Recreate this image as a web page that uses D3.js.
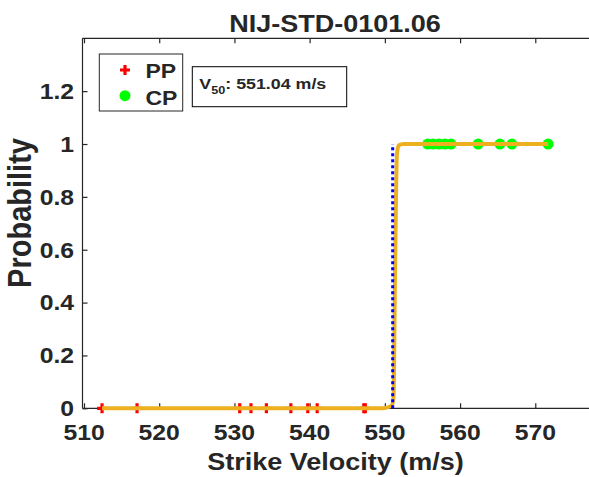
<!DOCTYPE html>
<html>
<head>
<meta charset="utf-8">
<script src="https://cdn.jsdelivr.net/npm/d3@7"></script>
<style>
  html, body { margin: 0; padding: 0; background: #fff; }
  svg { display: block; }
  text { font-family: "Liberation Sans", Arial, Helvetica, sans-serif; font-weight: bold; fill: #262626; }
</style>
</head>
<body>
<div id="chart"></div>
<script>
// Ballistic limit test results (strike velocity in m/s)
const ppVelocities = [512.4, 517.05, 530.7, 532.2, 534.25, 537.5, 539.75, 541.0, 547.2, 547.4];
const cpVelocities = [555.7, 556.4, 557.2, 558.0, 558.8, 562.4, 565.3, 566.9, 571.7];
const v50 = 551.04;
// Fitted probability curve: [velocity, probability]
const fitVelocity    = [512.4, 549.8, 550.9, 551.15, 551.35, 551.6, 551.85, 552.5, 571.7];
const fitProbability = [0,     0,     0.01,  0.04,   0.5,    0.96,  0.995,  1,     1];
const xTicks = [510, 520, 530, 540, 550, 560, 570];
const yTicks = [0, 0.2, 0.4, 0.6, 0.8, 1, 1.2];
const yTickLabels = ["0", "0.2", "0.4", "0.6", "0.8", "1", "1.2"];

const W = 589, H = 477;
const SX = 1.15; // horizontal text stretch
const plotLeft = 82.5, plotTop = 38.3, plotBottom = 408.3, plotRight = 610.5;

const svg = d3.select("#chart").append("svg").attr("width", W).attr("height", H);

const x = d3.scaleLinear().domain([509.8, 580]).range([plotLeft, plotRight]);
const y = d3.scaleLinear().domain([0, 1.4]).range([plotBottom, plotTop]);

function label(g, px, py, str, size, anchor, rot) {
  return g.append("text")
    .attr("transform", `translate(${px},${py}) scale(${SX},1)` + (rot ? ` rotate(${rot})` : ""))
    .attr("font-size", size)
    .attr("text-anchor", anchor || "start")
    .text(str);
}

// Axes frame (left, bottom, top)
const axisColor = "#262626";
const frame = svg.append("g").attr("stroke", axisColor).attr("stroke-width", 1.2).attr("fill", "none");
frame.append("line").attr("x1", plotLeft).attr("x2", W + 5).attr("y1", plotTop).attr("y2", plotTop);
frame.append("line").attr("x1", plotLeft).attr("x2", W + 5).attr("y1", plotBottom).attr("y2", plotBottom);
frame.append("line").attr("x1", plotLeft).attr("x2", plotLeft).attr("y1", plotTop).attr("y2", plotBottom);

// ticks point inward on bottom, top and left
const gxb = svg.append("g").attr("transform", `translate(0,${plotBottom})`)
  .call(d3.axisBottom(x).tickValues(xTicks).tickSize(-5).tickFormat(""));
const gxt = svg.append("g").attr("transform", `translate(0,${plotTop})`)
  .call(d3.axisTop(x).tickValues(xTicks).tickSize(-5).tickFormat(""));
const gy = svg.append("g").attr("transform", `translate(${plotLeft},0)`)
  .call(d3.axisLeft(y).tickValues(yTicks).tickSize(-5).tickFormat(""));
[gxb, gxt, gy].forEach(g => {
  g.select(".domain").remove();
  g.selectAll(".tick line").attr("stroke", axisColor).attr("stroke-width", 1.2);
});

// tick labels
const tl = svg.append("g");
xTicks.forEach(v => label(tl, x(v), 439.5, String(v), 21.5, "middle"));
yTicks.forEach((v, i) => label(tl, 74, y(v) + 7.8, yTickLabels[i], 21.5, "end"));

// Axis titles and chart title
label(svg, 335.5, 470, "Strike Velocity (m/s)", 23.5, "middle");
label(svg, 31, 213, "Probability", 29, "middle", -90);
label(svg, 335, 32, "NIJ-STD-0101.06", 23.5, "middle").attr("fill", "#000");

// plot content clip
svg.append("clipPath").attr("id", "plotclip").append("rect")
  .attr("x", plotLeft).attr("y", plotTop - 10).attr("width", W - plotLeft).attr("height", plotBottom - plotTop + 20);
const plot = svg.append("g").attr("clip-path", "url(#plotclip)");

// PP markers (plus)
const plusSize = 5;
plot.append("g").selectAll("path").data(ppVelocities).join("path")
  .attr("d", d => `M${x(d) - plusSize},${y(0)}H${x(d) + plusSize}M${x(d)},${y(0) - plusSize}V${y(0) + plusSize}`)
  .attr("stroke", "#ff0000").attr("stroke-width", 3.2).attr("fill", "none");

// CP markers (filled dots)
plot.append("g").selectAll("circle").data(cpVelocities).join("circle")
  .attr("cx", d => x(d)).attr("cy", y(1)).attr("r", 5.5)
  .attr("fill", "#00ff00");

// fitted curve
const fitPts = fitVelocity.map((v, i) => [v, fitProbability[i]]);
const line = d3.line().x(d => x(d[0])).y(d => y(d[1])).curve(d3.curveMonotoneX);
plot.append("path").datum(fitPts)
  .attr("d", line)
  .attr("fill", "none").attr("stroke", "#EDB120").attr("stroke-width", 4)
  .attr("stroke-linejoin", "round");

// V50 marker line
plot.append("line")
  .attr("x1", x(v50)).attr("x2", x(v50))
  .attr("y1", y(0)).attr("y2", y(1))
  .attr("stroke", "#0000ff").attr("stroke-width", 3)
  .attr("stroke-dasharray", "3,3");

// Legend
const lg = svg.append("g");
lg.append("rect").attr("x", 99.3).attr("y", 54).attr("width", 83.4).attr("height", 57)
  .attr("fill", "#fff").attr("stroke", axisColor).attr("stroke-width", 1);
lg.append("path")
  .attr("d", `M${125 - plusSize},70H${125 + plusSize}M125,${70 - plusSize}V${70 + plusSize}`)
  .attr("stroke", "#ff0000").attr("stroke-width", 3.2);
lg.append("circle").attr("cx", 125).attr("cy", 95.7).attr("r", 5.5).attr("fill", "#00ff00");
label(lg, 145.5, 78, "PP", 20, "start").attr("fill", "#000");
label(lg, 145.5, 104.5, "CP", 20, "start").attr("fill", "#000");

// V50 annotation box
const ab = svg.append("g");
ab.append("rect").attr("x", 192.3).attr("y", 66.7).attr("width", 154.4).attr("height", 40)
  .attr("fill", "#fff").attr("stroke", "#000").attr("stroke-width", 1);
const at = ab.append("text")
  .attr("transform", `translate(199.3,88.5) scale(${SX},1)`)
  .attr("font-size", 15.5).attr("fill", "#000");
at.append("tspan").text("V");
at.append("tspan").attr("font-size", 11).attr("dy", 5.5).text("50");
at.append("tspan").attr("dy", -5.5).text(": " + v50.toFixed(2) + " m/s");
</script>
</body>
</html>
